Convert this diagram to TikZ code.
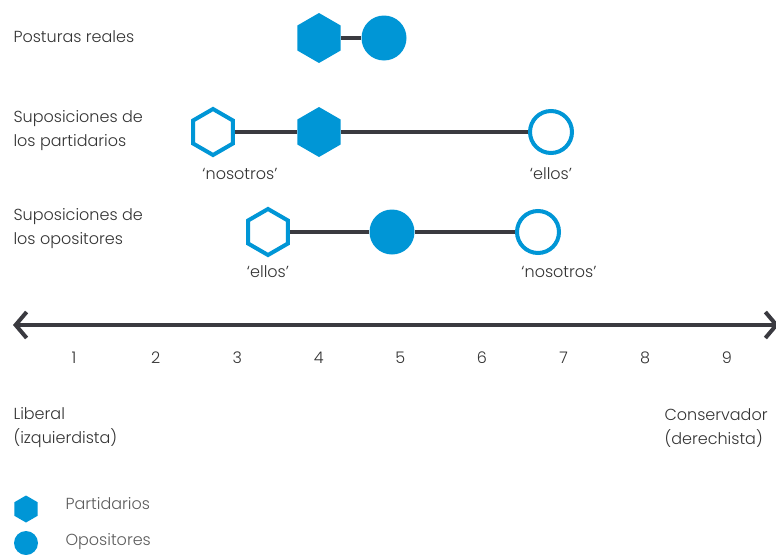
\documentclass[tikz,border=0pt]{standalone}
\usepackage{fontspec}
\IfFontExistsTF{Poppins Light}{\setmainfont{Poppins Light}}{\setmainfont{Poppins}}
\usetikzlibrary{arrows.meta, shapes.geometric}
\definecolor{azul}{HTML}{0096D6}
\definecolor{gris}{HTML}{3A3A40}
\definecolor{texto}{HTML}{333333}
\tikzset{
  hexlleno/.style={regular polygon, regular polygon sides=6, shape border rotate=30,
    minimum size=50pt, inner sep=0pt, fill=azul},
  hexvacio/.style={regular polygon, regular polygon sides=6, shape border rotate=30,
    minimum size=46pt, inner sep=0pt, fill=white, draw=azul, line width=4pt},
  circlleno/.style={circle, minimum size=45pt, inner sep=0pt, fill=azul},
  circvacio/.style={circle, minimum size=42pt, inner sep=0pt, fill=white, draw=azul, line width=4pt},
  enlace/.style={gris, line width=4pt},
  rotulo/.style={anchor=west, align=left, text=texto, font=\fontsize{16}{24}\selectfont},
  etiqueta/.style={text=texto, font=\fontsize{16}{20}\selectfont},
}
\newcommand{\posx}[1]{74+(#1-1)*81.6}
\begin{document}
\begin{tikzpicture}[x=1pt,y=-1pt]
  \useasboundingbox (0,0) rectangle (776,554);
  % filas
  \node[rotulo] (fila1) at (10,37) {Posturas reales};
  \node[rotulo] (fila2) at (10,131) {Suposiciones de\\los partidarios};
  \node[rotulo] (fila3) at (10,229) {Suposiciones de\\los opositores};

  % posturas reales
  \node[hexlleno] (rP) at (319,38) {};
  \node[circlleno] (rO) at (384,38) {};
  \draw[enlace] (rP) -- (rO);

  % suposiciones de los partidarios
  \node[hexvacio] (pN) at (213,132) {};
  \node[hexlleno] (pP) at (319,132) {};
  \node[circvacio] (pE) at (551,132) {};
  \draw[enlace] (pN) -- (pP);
  \draw[enlace] (pP) -- (pE);
  \node[etiqueta] (pNt) at (240,174) {‘nosotros’};
  \node[etiqueta] (pEt) at (551,174) {‘ellos’};

  % suposiciones de los opositores
  \node[hexvacio] (oE) at (268,232) {};
  \node[circlleno] (oO) at (392,232) {};
  \node[circvacio] (oN) at (538,232) {};
  \draw[enlace] (oE) -- (oO);
  \draw[enlace] (oO) -- (oN);
  \node[etiqueta] (oEt) at (268,272) {‘ellos’};
  \node[etiqueta] (oNt) at (559,272) {‘nosotros’};

  % eje
  \coordinate (izq) at (13,325);
  \coordinate (der) at (779,325);
  \draw[enlace, {Straight Barb[length=11pt,width=26pt,line width=4pt]}-{Straight Barb[length=11pt,width=26pt,line width=4pt]}] (izq) -- (der);
  \foreach \v in {1,...,9}
    \node[etiqueta] (n\v) at ({\posx{\v}},358) {\v};
  \node[rotulo] (lib) at (10,428) {Liberal\\(izquierdista)};
  \node[rotulo] (con) at (661,428) {Conservador\\(derechista)};

  % leyenda
  \node[hexlleno, minimum size=27pt] (lP) at (26,509) {};
  \node[circlleno, minimum size=24pt] (lO) at (26,543) {};
  \node[rotulo, text=texto!80] (lPt) at (62,504) {Partidarios};
  \node[rotulo, text=texto!80] (lOt) at (62,542) {Opositores};
\end{tikzpicture}
\end{document}
